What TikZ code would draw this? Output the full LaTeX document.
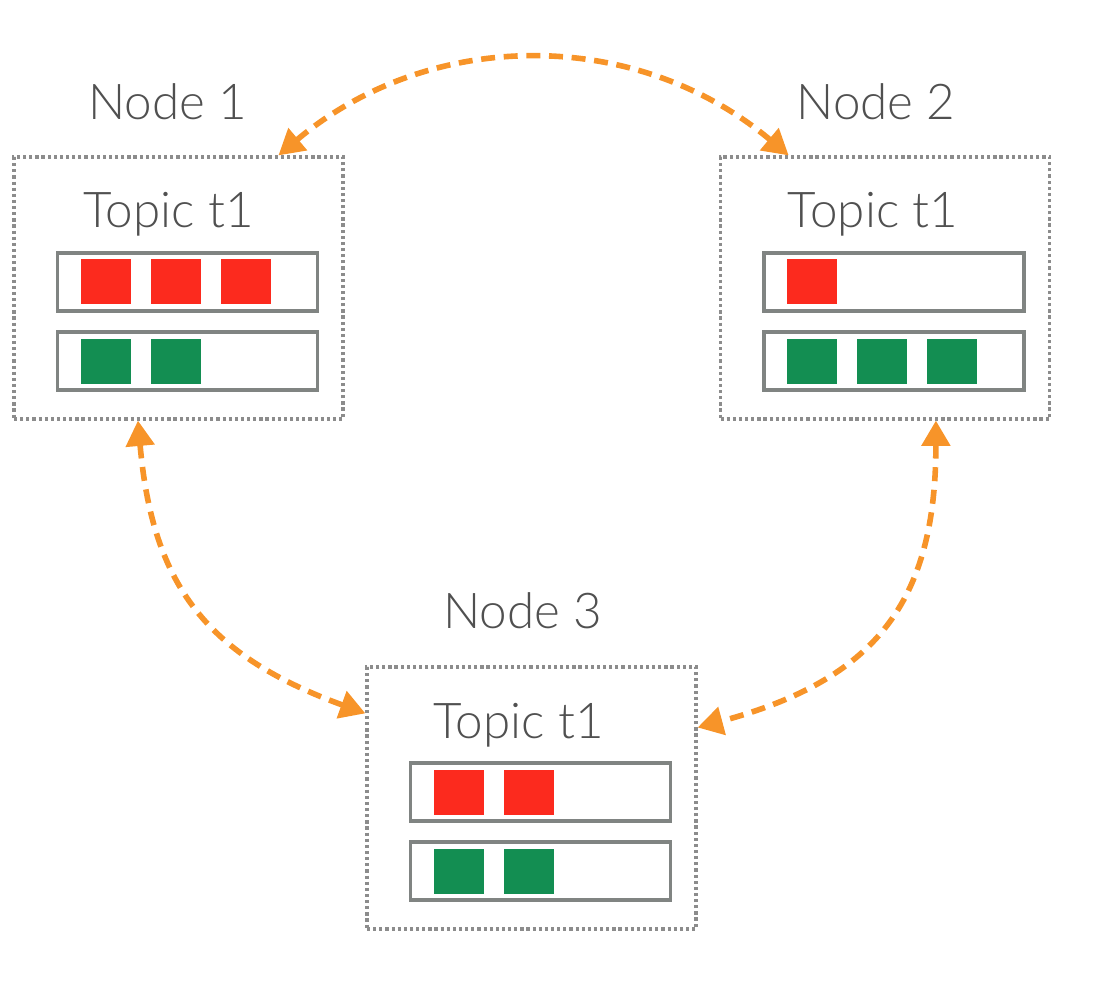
\documentclass[tikz,border=0pt]{standalone}
\usepackage{fontspec}
\setmainfont{Lato}[UprightFont=* Light]
\usetikzlibrary{positioning, calc, arrows.meta}

\definecolor{syncorange}{RGB}{247,148,41}
\definecolor{msgred}{RGB}{252,42,30}
\definecolor{msggreen}{RGB}{19,142,82}
\definecolor{partgray}{RGB}{128,132,130}
\definecolor{dotgray}{RGB}{140,140,140}
\definecolor{txtgray}{RGB}{80,80,80}

\begin{document}
\begin{tikzpicture}[x=0.75pt, y=-0.75pt,
    font=\fontsize{37}{40}\selectfont, text=txtgray,
    broker/.style={draw=dotgray, line width=2.4pt, dash pattern=on 2.4pt off 2.2pt,
      minimum width=246.75pt, minimum height=196.5pt, inner sep=0pt},
    partition/.style={draw=partgray, line width=2.4pt, minimum width=195pt,
      minimum height=43.5pt, inner sep=0pt},
    redmsg/.style={fill=msgred, minimum width=37.5pt, minimum height=33.75pt, inner sep=0pt},
    greenmsg/.style={fill=msggreen, minimum width=37.5pt, minimum height=33.75pt, inner sep=0pt},
    sync/.style={{Triangle[length=19pt, width=21pt]}-{Triangle[length=19pt, width=21pt]},
      draw=syncorange, line width=4.2pt, dash pattern=on 10.5pt off 6.5pt}]
  \useasboundingbox (0,0) rectangle (1104,988);

  % brokers
  \node[broker] (n1) at (178.5,288) {};
  \node[broker] (n2) at (885,288) {};
  \node[broker] (n3) at (531.5,798) {};

  \node[anchor=base] (l1) at ($(n1.center)+(-11,-168)$) {Node 1};
  \node[anchor=base] (l2) at ($(n2.center)+(-9,-168)$) {Node 2};
  \node[anchor=base] (l3) at ($(n3.center)+(-9,-170)$) {Node 3};

  \node[anchor=base] (t1) at ($(n1.center)+(-10,-60)$) {Topic t1};
  \node[anchor=base] (t2) at ($(n2.center)+(-12,-60)$) {Topic t1};
  \node[anchor=base] (t3) at ($(n3.center)+(-13,-60)$) {Topic t1};

  % partitions
  \foreach \n in {1,2,3} {
    \node[partition] (p\n r) at ($(n\n.center)+(9,-6)$) {};
    \node[partition] (p\n g) at ($(n\n.center)+(9,73)$) {};
  }

  % messages
  \foreach \i in {0,1,2} \node[redmsg] (r1\i) at ($(p1r.center)+({-82+70*\i},0)$) {};
  \foreach \i in {0,1} \node[greenmsg] (g1\i) at ($(p1g.center)+({-82+70*\i},0)$) {};
  \node[redmsg] (r20) at ($(p2r.center)+(-82,0)$) {};
  \foreach \i in {0,1,2} \node[greenmsg] (g2\i) at ($(p2g.center)+({-82+70*\i},0)$) {};
  \foreach \i in {0,1} \node[redmsg] (r3\i) at ($(p3r.center)+({-82+70*\i},0)$) {};
  \foreach \i in {0,1} \node[greenmsg] (g3\i) at ($(p3g.center)+({-82+70*\i},0)$) {};

  % replication
  \draw[sync] (n1.53) to[out=40, in=140] (n2.126);
  \draw[sync] (n1.-107) to[out=-85, in=160, looseness=1.15] (n3.153);
  \draw[sync] (n2.-69) to[out=-90, in=15, looseness=1.2] (n3.23);
\end{tikzpicture}
\end{document}
